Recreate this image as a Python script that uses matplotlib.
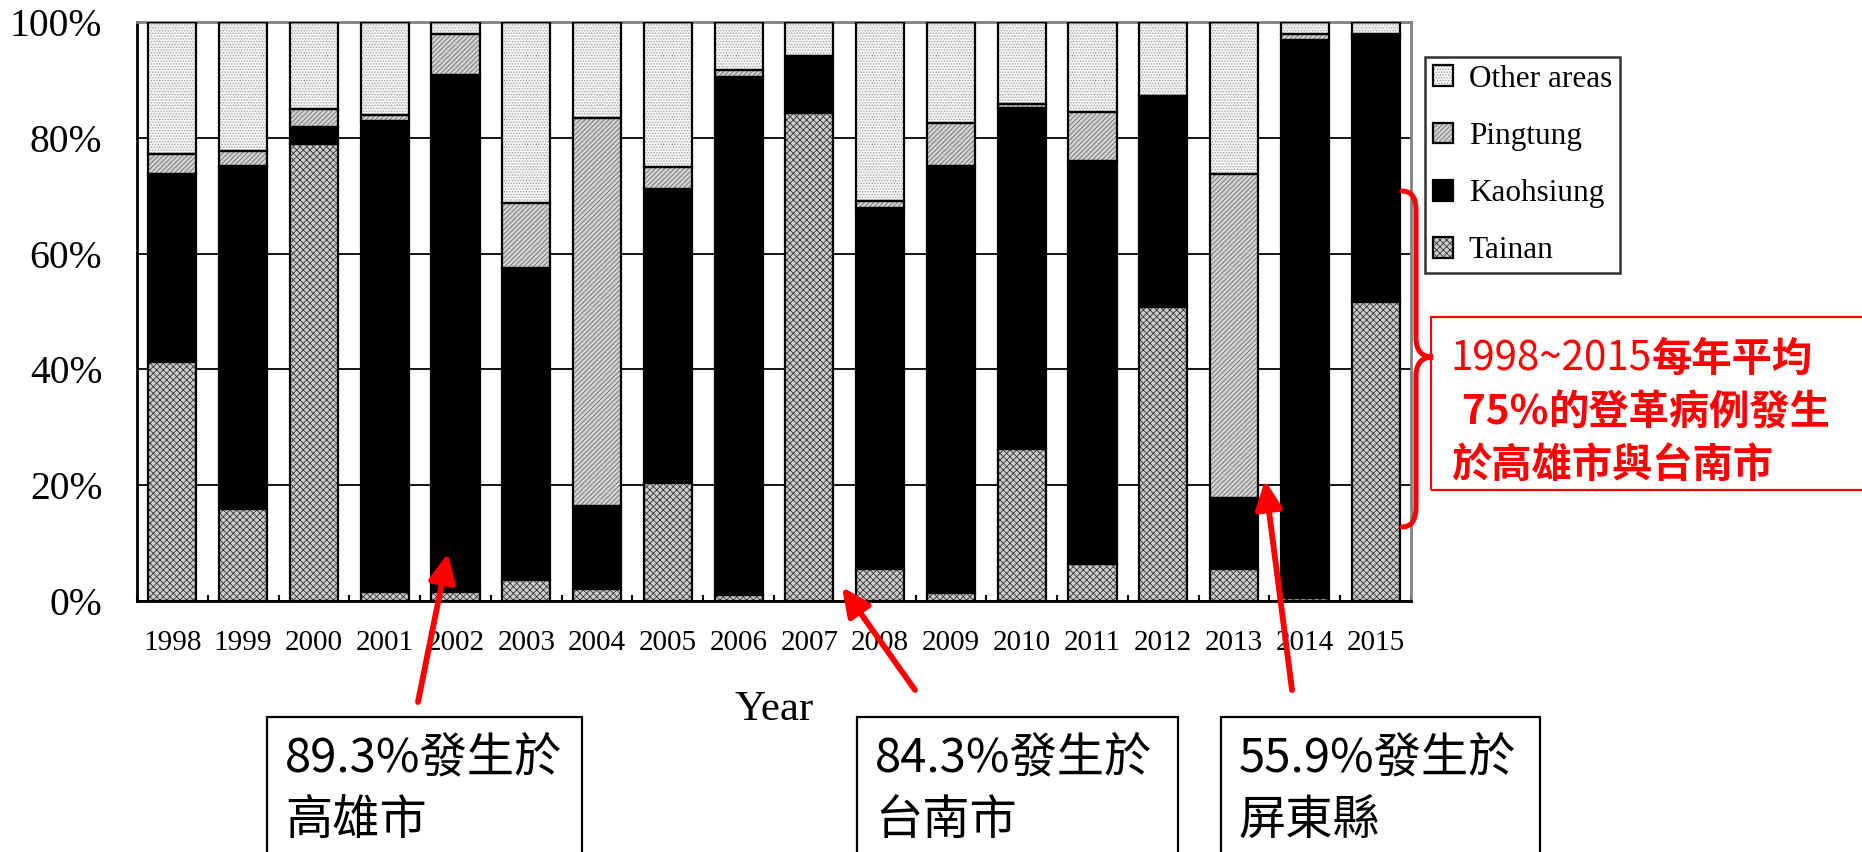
import numpy as np
import matplotlib
matplotlib.use("Agg")
import matplotlib.pyplot as plt
from matplotlib.patches import Patch, Rectangle, FancyArrowPatch, PathPatch
from matplotlib.path import Path
from matplotlib.legend_handler import HandlerTuple

# ---------------- data ----------------
years = ["1998", "1999", "2000", "2001", "2002", "2003", "2004", "2005", "2006",
         "2007", "2008", "2009", "2010", "2011", "2012", "2013", "2014", "2015"]
tainan    = [41.3, 15.9, 78.9, 1.5, 1.5, 3.7, 2.0, 20.4, 1.1, 84.3, 5.6, 1.4, 26.3, 6.4, 50.8, 5.6, 0.5, 51.7]
kaohsiung = [32.5, 59.3, 3.0, 81.4, 89.3, 53.8, 14.4, 50.7, 89.4, 9.8, 62.3, 73.8, 58.9, 69.6, 36.5, 12.2, 96.4, 45.8]
pingtung  = [3.4, 2.5, 3.1, 1.1, 7.2, 11.3, 67.1, 3.9, 1.2, 0.0, 1.2, 7.4, 0.6, 8.4, 0.0, 55.9, 1.1, 0.5]
other     = [22.8, 22.3, 15.0, 16.0, 2.0, 31.2, 16.5, 25.0, 8.3, 5.9, 30.9, 17.4, 14.2, 15.6, 12.7, 26.3, 2.0, 2.0]
series_names = ["Tainan", "Kaohsiung", "Pingtung", "Other areas"]
yticks = [0, 20, 40, 60, 80, 100]
ytick_labels = ["0%", "20%", "40%", "60%", "80%", "100%"]

W, H = 1862, 852
fig = plt.figure(figsize=(W / 100, H / 100), dpi=100)

def P(x, y):
    return (x / W, 1 - y / H)

ax = fig.add_axes([137 / W, 1 - 601 / H, (1411 - 137) / W, (601 - 22) / H])

plt.rcParams['hatch.linewidth'] = 0.6
styles = {
    "Tainan":      dict(fc="#cccccc", hc="#333333", hatch="xxxxx"),
    "Kaohsiung":   dict(fc="#000000", hc="#000000", hatch=None),
    "Pingtung":    dict(fc="#d2d2d2", hc="#6e6e6e", hatch="///////"),
    "Other areas": dict(fc="#f4f4f4", hc="#a0a0a0", hatch="......"),
}

x = np.arange(len(years))
bw = 0.68
bottom = np.zeros(len(years))
handles = {}
for name, vals in zip(series_names, [tainan, kaohsiung, pingtung, other]):
    vals = np.array(vals)
    st = styles[name]
    ax.bar(x, vals, bw, bottom=bottom, color=st["fc"], edgecolor=st["hc"],
           hatch=st["hatch"], linewidth=0, zorder=2)
    ax.bar(x, vals, bw, bottom=bottom, fill=False, edgecolor="black",
           linewidth=1.6, zorder=3)
    bottom += vals
    handles[name] = (Patch(facecolor=st["fc"], edgecolor=st["hc"], hatch=st["hatch"], linewidth=0),
                     Patch(fill=False, edgecolor="black", linewidth=1.6))

ax.set_xlim(-0.5, len(years) - 0.5)
ax.set_ylim(0, 100)
ax.set_yticks(yticks)
ax.set_yticklabels(ytick_labels, fontsize=28.5, family="Liberation Serif")
ax.set_xticks(x)
ax.set_xticklabels(years, fontsize=21, family="Liberation Serif")
ax.set_xticks(np.arange(len(years) + 1) - 0.5, minor=True)
ax.tick_params(axis="y", length=0, pad=25)
ax.tick_params(axis="x", which="major", length=0, pad=21)
ax.tick_params(axis="x", which="minor", direction="in", length=4, width=1.5)
ax.yaxis.grid(True, color="black", linewidth=1.3, zorder=0)
ax.set_axisbelow(True)
for s in ["left", "bottom"]:
    ax.spines[s].set_color("black")
    ax.spines[s].set_linewidth(2)
for s in ["top", "right"]:
    ax.spines[s].set_color("#808080")
    ax.spines[s].set_linewidth(2)
ax.set_xlabel("Year", fontsize=31, family="Liberation Serif", labelpad=25)

order = ["Other areas", "Pingtung", "Kaohsiung", "Tainan"]
leg = fig.legend([handles[n] for n in order], order,
                 handler_map={tuple: HandlerTuple(ndivide=1)},
                 loc="upper left", bbox_to_anchor=P(1425, 57), borderaxespad=0,
                 prop={"family": "Liberation Serif", "size": 22.5},
                 frameon=True, fancybox=False, edgecolor="black",
                 handlelength=0.65, handleheight=0.65, labelspacing=0.9,
                 borderpad=0.25, handletextpad=0.5)
leg.get_frame().set_linewidth(1.8)

# ---------------- red annotation box & brace ----------------
cjk = ["Noto Sans CJK TC", "DejaVu Sans"]
fig.add_artist(Rectangle(P(1431, 490), (1870 - 1431) / W, (490 - 317) / H,
                         transform=fig.transFigure, fill=False, edgecolor="red",
                         linewidth=1.6, clip_on=False))

renderer = fig.canvas.get_renderer()

def text_run(xpx, ypx, parts, size, color):
    xcur = xpx
    for s, w in parts:
        t = fig.text(xcur / W, 1 - ypx / H, s, fontsize=size, color=color,
                     family=cjk, weight=w, ha="left", va="center")
        bb = t.get_window_extent(renderer=renderer)
        xcur += bb.width

text_run(1451, 359, [("1998~2015", "normal"), ("每年平均", "bold")], 29, "red")
text_run(1462, 413, [("75%", "heavy"), ("的登革病例發生", "bold")], 29, "red")
text_run(1451, 465, [("於高雄市與台南市", "bold")], 29, "red")

verts = [P(1402, 191), P(1416, 191), P(1416, 210), P(1416, 338), P(1416, 357), P(1433, 357),
         P(1416, 357), P(1416, 376), P(1416, 507), P(1416, 527), P(1402, 527)]
codes = [Path.MOVETO, Path.CURVE3, Path.CURVE3, Path.LINETO, Path.CURVE3, Path.CURVE3,
         Path.CURVE3, Path.CURVE3, Path.LINETO, Path.CURVE3, Path.CURVE3]
fig.add_artist(PathPatch(Path(verts, codes), transform=fig.transFigure, fill=False,
                         edgecolor="red", linewidth=3.6, capstyle="round"))

# ---------------- bottom boxes & arrows ----------------
boxes = [(267, 582, "89.3%發生於", "高雄市"),
         (857, 1178, "84.3%發生於", "台南市"),
         (1221, 1540, "55.9%發生於", "屏東縣")]
for x0, x1, l1, l2 in boxes:
    fig.add_artist(Rectangle(P(x0, 870), (x1 - x0) / W, (870 - 717) / H,
                             transform=fig.transFigure, fill=False, edgecolor="black",
                             linewidth=1.6, clip_on=False))
    fig.text((x0 + 18) / W, 1 - 758 / H, l1, fontsize=34, family=cjk, ha="left", va="center")
    fig.text((x0 + 18) / W, 1 - 821 / H, l2, fontsize=34, family=cjk, ha="left", va="center")

arrows = [((418, 702), (448, 553)),
          ((915, 690), (842, 587)),
          ((1292, 690), (1265, 480))]
for a, b in arrows:
    fig.add_artist(FancyArrowPatch(P(*a), P(*b), transform=fig.transFigure,
                                   arrowstyle="-|>,head_length=17,head_width=8",
                                   color="red", linewidth=4.2, shrinkA=0, shrinkB=0,
                                   mutation_scale=1))

fig.savefig("out.png", dpi=100)
